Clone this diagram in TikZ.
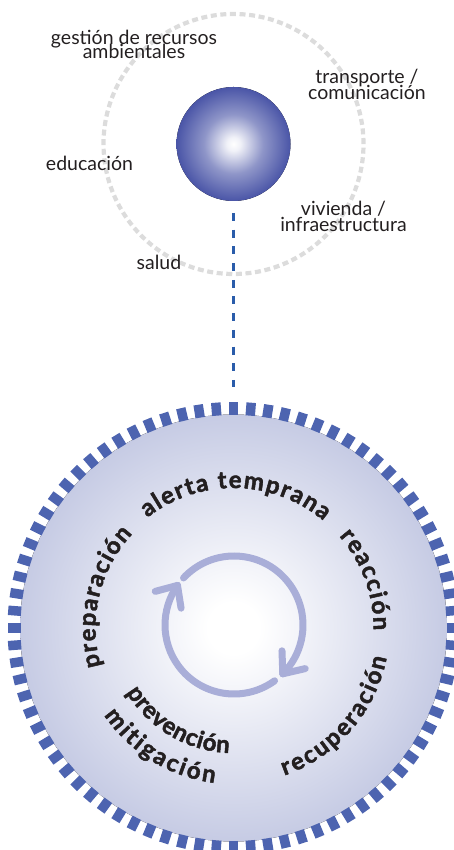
\documentclass[tikz,border=0pt]{standalone}
\usepackage{fontspec}
\setmainfont{Lato}
\newfontfamily\heavyfam{Lato}[BoldFeatures={FakeBold=2}]
\usetikzlibrary{decorations.text}
\definecolor{txt}{HTML}{231F20}
\definecolor{sph}{HTML}{4A55A7}
\definecolor{discedge}{HTML}{C6CBE4}
\definecolor{ringblue}{HTML}{4D64B0}
\definecolor{linkblue}{HTML}{2A5CAA}
\definecolor{cyc}{HTML}{A9AED8}
\definecolor{graydash}{HTML}{DCDCDC}
\pgfdeclareradialshading{spherefill}{\pgfpoint{0bp}{0bp}}{color(0bp)=(white); color(3bp)=(white!92!sph); color(13bp)=(sph!62!white); color(25bp)=(sph); color(50bp)=(sph)}
\pgfdeclareradialshading{discfill}{\pgfpoint{0bp}{0bp}}{color(0bp)=(white); color(3bp)=(white); color(25bp)=(discedge); color(50bp)=(discedge)}
\newcommand\arcfont{\color{txt}\heavyfam\fontsize{24}{24}\selectfont\bfseries}
\begin{document}
\begin{tikzpicture}[x=1pt,y=1pt,
  lbl/.style={anchor=base,text=txt,font=\fontsize{19.5}{19.5}\selectfont,inner sep=0pt},
  ringdash/.style={ringblue,line width=9.5pt},
  cycline/.style={cyc,line width=7pt,line cap=round,line join=round},
  arctext/.style={decorate,font=\arcfont,decoration={text along path,text={|\arcfont|#1},text align={fit to path}}}]
\useasboundingbox (0,0) rectangle (453,850);
% ---------- top part ----------
\coordinate (S) at (233.5,706);
\draw[graydash,line width=4.2pt,dash pattern=on 6pt off 3.61pt] (S) circle[radius=130];
\fill[shading=spherefill] (S) circle[radius=57];
\node[circle,minimum size=114pt,inner sep=0pt] (sphere) at (S) {};
\coordinate (linkend) at (233.5,463);
\draw[linkblue,line width=3pt,dash pattern=on 8pt off 8.7pt] (233.5,637) -- (linkend);
\node[lbl] (g1) at (134,805.5) {gestión de recursos};
\node[lbl] (g2) at (134,791.5) {ambientales};
\node[lbl] (t1) at (367,766) {transporte /};
\node[lbl] (t2) at (367,750.5) {comunicación};
\node[lbl] (ed) at (89.5,679) {educación};
\node[lbl] (v1) at (343.5,634) {vivienda /};
\node[lbl] (v2) at (343.5,618.5) {infraestructura};
\node[lbl] (sa) at (159,580.7) {salud};
% ---------- bottom disc ----------
\coordinate (C) at (233.5,222);
\fill[shading=discfill] (C) circle[radius=213.5];
\foreach \a in {0,4.5,...,355.5}
  \draw[ringdash] ([shift={(\a:213)}]C) -- ([shift={(\a:226)}]C);
% cycle arrows
\coordinate (Y) at (234,225);
\coordinate (tipA) at ([shift={(-45:69)}]Y);
\coordinate (tipB) at ([shift={(145:69)}]Y);
\draw[cycline] ([shift={(137:69)}]Y) arc[start angle=137,end angle=-45,radius=69];
\draw[cycline] (tipA) -- ++(92:23);
\draw[cycline] (tipA) -- ++(13:23);
\draw[cycline] ([shift={(-54:69)}]Y) arc[start angle=-54,end angle=-215,radius=69];
\draw[cycline] (tipB) -- ++(195:23);
\draw[cycline] (tipB) -- ++(279:23);
% curved labels
\path[arctext={alerta temprana}] ([shift={(128:140)}]C) arc[start angle=128,end angle=50,radius=140];
\path[arctext={reacción}] ([shift={(41:140)}]C) arc[start angle=41,end angle=-1,radius=140];
\path[arctext={preparación}] ([shift={(196:138)}]C) arc[start angle=196,end angle=137,radius=138];
\path[arctext={recuperación}] ([shift={(-71:156)}]C) arc[start angle=-71,end angle=-11,radius=156];
\path[arctext={mitigación}] ([shift={(-146:156)}]C) arc[start angle=-146,end angle=-97,radius=156];
\path[arctext={prevención}] ([shift={(-149:125)}]C) arc[start angle=-149,end angle=-92,radius=125];
\end{tikzpicture}
\end{document}
